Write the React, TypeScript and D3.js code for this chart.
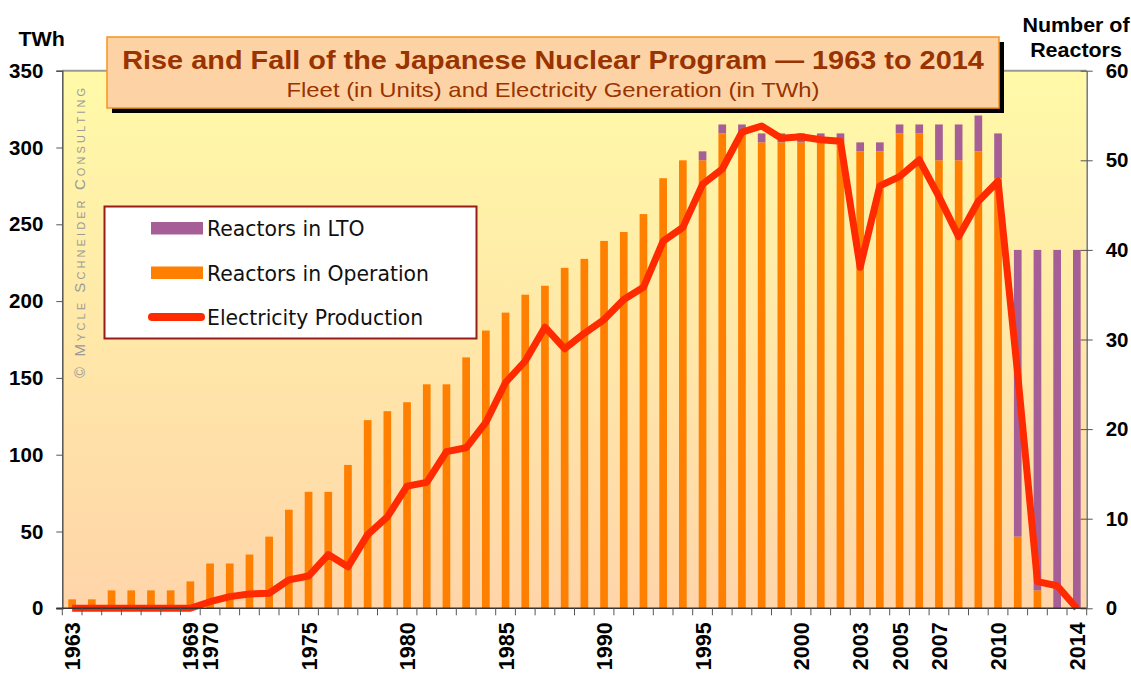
import React, { useEffect, useRef } from 'react';
import * as d3 from 'd3';

const years = [
  1963, 1964, 1965, 1966, 1967, 1968, 1969, 1970, 1971, 1972, 1973, 1974, 1975,
  1976, 1977, 1978, 1979, 1980, 1981, 1982, 1983, 1984, 1985, 1986, 1987, 1988,
  1989, 1990, 1991, 1992, 1993, 1994, 1995, 1996, 1997, 1998, 1999, 2000, 2001,
  2002, 2003, 2004, 2005, 2006, 2007, 2008, 2009, 2010, 2011, 2012, 2013, 2014,
];

// reactors in operation
const operating = [
  1, 1, 2, 2, 2, 2, 3, 5, 5, 6, 8, 11, 13,
  13, 16, 21, 22, 23, 25, 25, 28, 31, 33, 35, 36, 38,
  39, 41, 42, 44, 48, 50, 50, 53, 53, 52, 52, 52, 52,
  52, 51, 51, 53, 53, 50, 50, 51, 48, 8, 2, 0, 0,
];

// reactors in long term outage
const lto = [
  0, 0, 0, 0, 0, 0, 0, 0, 0, 0, 0, 0, 0,
  0, 0, 0, 0, 0, 0, 0, 0, 0, 0, 0, 0, 0,
  0, 0, 0, 0, 0, 0, 1, 1, 1, 1, 1, 1, 1,
  1, 1, 1, 1, 1, 4, 4, 4, 5, 32, 38, 40, 40,
];

// electricity production, TWh
const twh = [
  0, 0, 0, 0, 0, 0, 0, 4.3, 7.6, 9.3, 9.8, 18.5, 21,
  35, 27, 48, 59.5, 79.5, 82, 102, 104.5, 121, 147, 161, 183, 169,
  179, 188, 201, 209, 239, 248, 276, 286, 310, 314, 306, 307, 305,
  304, 222, 275, 281, 292, 268, 242, 265, 278, 152, 17.4, 14.7, 0,
];

const twhTicks = [0, 50, 100, 150, 200, 250, 300, 350];
const reactorTicks = [0, 10, 20, 30, 40, 50, 60];
const yearLabels = [1963, 1969, 1970, 1975, 1980, 1985, 1990, 1995, 2000, 2003, 2005, 2007, 2010, 2014];

const W = 1131;
const H = 675;
const left = 62.3;
const right = 1086.7;
const top = 70.7;
const bottom = 608.3;

const PURPLE = '#a65f96';
const ORANGE = '#ff7f00';
const RED = '#ff2a00';
const BROWN = '#993300';
const SANS = 'Liberation Sans, Arial, sans-serif';

export default function App() {
  const ref = useRef<SVGSVGElement>(null);

  useEffect(() => {
    const svg = d3.select(ref.current);
    svg.selectAll('*').remove();

    const x = d3.scaleBand<number>()
      .domain(years)
      .range([left, right])
      .paddingInner(0.61)
      .paddingOuter(0.305);
    const yL = d3.scaleLinear().domain([0, 350]).range([bottom, top]);
    const yR = d3.scaleLinear().domain([0, 60]).range([bottom, top]);
    const cx = (yr: number) => (x(yr) as number) + x.bandwidth() / 2;

    const defs = svg.append('defs');
    const grad = defs.append('linearGradient')
      .attr('id', 'bg')
      .attr('x1', 0).attr('y1', 0).attr('x2', 0).attr('y2', 1);
    grad.append('stop').attr('offset', '0%').attr('stop-color', '#fffaa8');
    grad.append('stop').attr('offset', '100%').attr('stop-color', '#ffd5a9');

    svg.append('rect')
      .attr('x', left).attr('y', top)
      .attr('width', right - left).attr('height', bottom - top)
      .attr('fill', 'url(#bg)');

    svg.append('line')
      .attr('x1', left).attr('x2', right).attr('y1', top).attr('y2', top)
      .attr('stroke', '#9a9a9a').attr('stroke-width', 2);

    // watermark
    svg.append('text')
      .attr('transform', `translate(85, 233) rotate(-90)`)
      .attr('text-anchor', 'middle')
      .attr('font-family', SANS)
      .attr('font-size', 15)
      .attr('textLength', 290)
      .attr('lengthAdjust', 'spacing')
      .style('font-variant', 'small-caps')
      .attr('fill', '#9a9a9a')
      .text('© Mycle Schneider Consulting');

    // bars
    const rows = years.map((yr, i) => ({ yr, op: operating[i], lto: lto[i] }));
    const bars = svg.append('g');
    bars.selectAll('.op')
      .data(rows)
      .join('rect')
      .attr('class', 'op')
      .attr('x', d => x(d.yr) as number)
      .attr('width', x.bandwidth())
      .attr('y', d => yR(d.op))
      .attr('height', d => bottom - yR(d.op))
      .attr('fill', ORANGE);
    bars.selectAll('.lto')
      .data(rows.filter(d => d.lto > 0))
      .join('rect')
      .attr('class', 'lto')
      .attr('x', d => x(d.yr) as number)
      .attr('width', x.bandwidth())
      .attr('y', d => yR(d.op + d.lto))
      .attr('height', d => yR(d.op) - yR(d.op + d.lto))
      .attr('fill', PURPLE);

    // electricity line
    const line = d3.line<number>()
      .x((_, i) => cx(years[i]))
      .y(d => yL(d));
    svg.append('path')
      .datum(twh)
      .attr('d', line)
      .attr('fill', 'none')
      .attr('stroke', RED)
      .attr('stroke-width', 7)
      .attr('stroke-linejoin', 'round');

    // left axis
    const axL = svg.append('g').attr('transform', `translate(${left},0)`)
      .call(d3.axisLeft(yL).tickValues(twhTicks).tickSize(6).tickFormat(d3.format('d')));
    axL.select('.domain').attr('stroke', '#555').attr('stroke-width', 1.5);
    axL.selectAll('.tick line').attr('stroke', '#555');
    axL.selectAll('.tick text')
      .attr('x', -19)
      .attr('font-family', SANS)
      .attr('font-weight', 'bold')
      .attr('font-size', 20.5)
      .attr('fill', '#000');

    // right axis
    const axR = svg.append('g').attr('transform', `translate(${right},0)`)
      .call(d3.axisRight(yR).tickValues(reactorTicks).tickSizeInner(6).tickSizeOuter(0));
    axR.select('.domain').attr('stroke', '#777').attr('stroke-width', 1.5);
    axR.selectAll('.tick line').attr('x1', -6).attr('stroke', '#555');
    axR.selectAll('.tick text')
      .attr('x', 19)
      .attr('font-family', SANS)
      .attr('font-weight', 'bold')
      .attr('font-size', 20.5)
      .attr('fill', '#000');

    // bottom axis
    const xAxis = svg.append('g');
    xAxis.append('line')
      .attr('x1', left - 6).attr('x2', right)
      .attr('y1', bottom).attr('y2', bottom)
      .attr('stroke', '#333').attr('stroke-width', 1.5);
    xAxis.selectAll('.xt')
      .data(years.concat([0]))
      .join('line')
      .attr('class', 'xt')
      .attr('x1', (_, i) => left + i * x.step())
      .attr('x2', (_, i) => left + i * x.step())
      .attr('y1', bottom).attr('y2', bottom + 7)
      .attr('stroke', '#555');
    xAxis.selectAll('.xl')
      .data(yearLabels)
      .join('text')
      .attr('class', 'xl')
      .attr('transform', d => `translate(${cx(d) + 8},${bottom + 14}) rotate(-90)`)
      .attr('text-anchor', 'end')
      .attr('font-family', SANS)
      .attr('font-weight', 'bold')
      .attr('font-size', 21.5)
      .text(d => d);

    // wider-looking text: horizontal stretch like the original's font
    const stretched = (tx: number, ty: number, sx: number, size: number, s: string,
      weight = 'bold', anchor = 'start', fill = '#000') =>
      svg.append('text')
        .attr('transform', `translate(${tx},${ty}) scale(${sx},1)`)
        .attr('text-anchor', anchor)
        .attr('font-family', SANS)
        .attr('font-weight', weight)
        .attr('font-size', size)
        .attr('fill', fill)
        .text(s);

    // axis titles
    stretched(18.5, 46, 1.1, 19.5, 'TWh');
    stretched(1076, 32, 1.1, 19.5, 'Number of', 'bold', 'middle');
    stretched(1076, 56.5, 1.1, 19.5, 'Reactors', 'bold', 'middle');

    // title box
    const tb = { x: 107, y: 37, w: 892, h: 71 };
    svg.append('rect')
      .attr('x', tb.x + 5).attr('y', tb.y + 5).attr('width', tb.w).attr('height', tb.h)
      .attr('fill', '#000');
    svg.append('rect')
      .attr('x', tb.x).attr('y', tb.y).attr('width', tb.w).attr('height', tb.h)
      .attr('fill', '#fdd3a6').attr('stroke', '#f7941d').attr('stroke-width', 1.5);
    stretched(tb.x + tb.w / 2, 68.5, 1.09, 26.5,
      'Rise and Fall of the Japanese Nuclear Program — 1963 to 2014', 'bold', 'middle', BROWN);
    stretched(tb.x + tb.w / 2, 97, 1.16, 20.6,
      'Fleet (in Units) and Electricity Generation (in TWh)', 'normal', 'middle', BROWN);

    // legend
    const lg = svg.append('g');
    lg.append('rect')
      .attr('x', 104.5).attr('y', 206.5).attr('width', 372).attr('height', 132)
      .attr('fill', '#fff').attr('stroke', '#9b1b1b').attr('stroke-width', 2);
    const items = [
      { label: 'Reactors in LTO', kind: 'bar', color: PURPLE, y: 228 },
      { label: 'Reactors in Operation', kind: 'bar', color: ORANGE, y: 272.5 },
      { label: 'Electricity Production', kind: 'line', color: RED, y: 317 },
    ];
    items.forEach(it => {
      if (it.kind === 'bar') {
        lg.append('rect')
          .attr('x', 151).attr('y', it.y - 6).attr('width', 52).attr('height', 12.5)
          .attr('fill', it.color);
      } else {
        lg.append('line')
          .attr('x1', 152).attr('x2', 201).attr('y1', it.y).attr('y2', it.y)
          .attr('stroke', it.color).attr('stroke-width', 8).attr('stroke-linecap', 'round');
      }
      lg.append('text')
        .attr('x', 207).attr('y', it.y + 8)
        .attr('font-family', 'DejaVu Sans, sans-serif')
        .attr('font-size', 20.4)
        .attr('fill', '#111')
        .text(it.label);
    });
  }, []);

  return (
    <svg
      ref={ref}
      width={W}
      height={H}
      style={{ position: 'absolute', left: 0, top: 0, background: '#fff' }}
    />
  );
}
